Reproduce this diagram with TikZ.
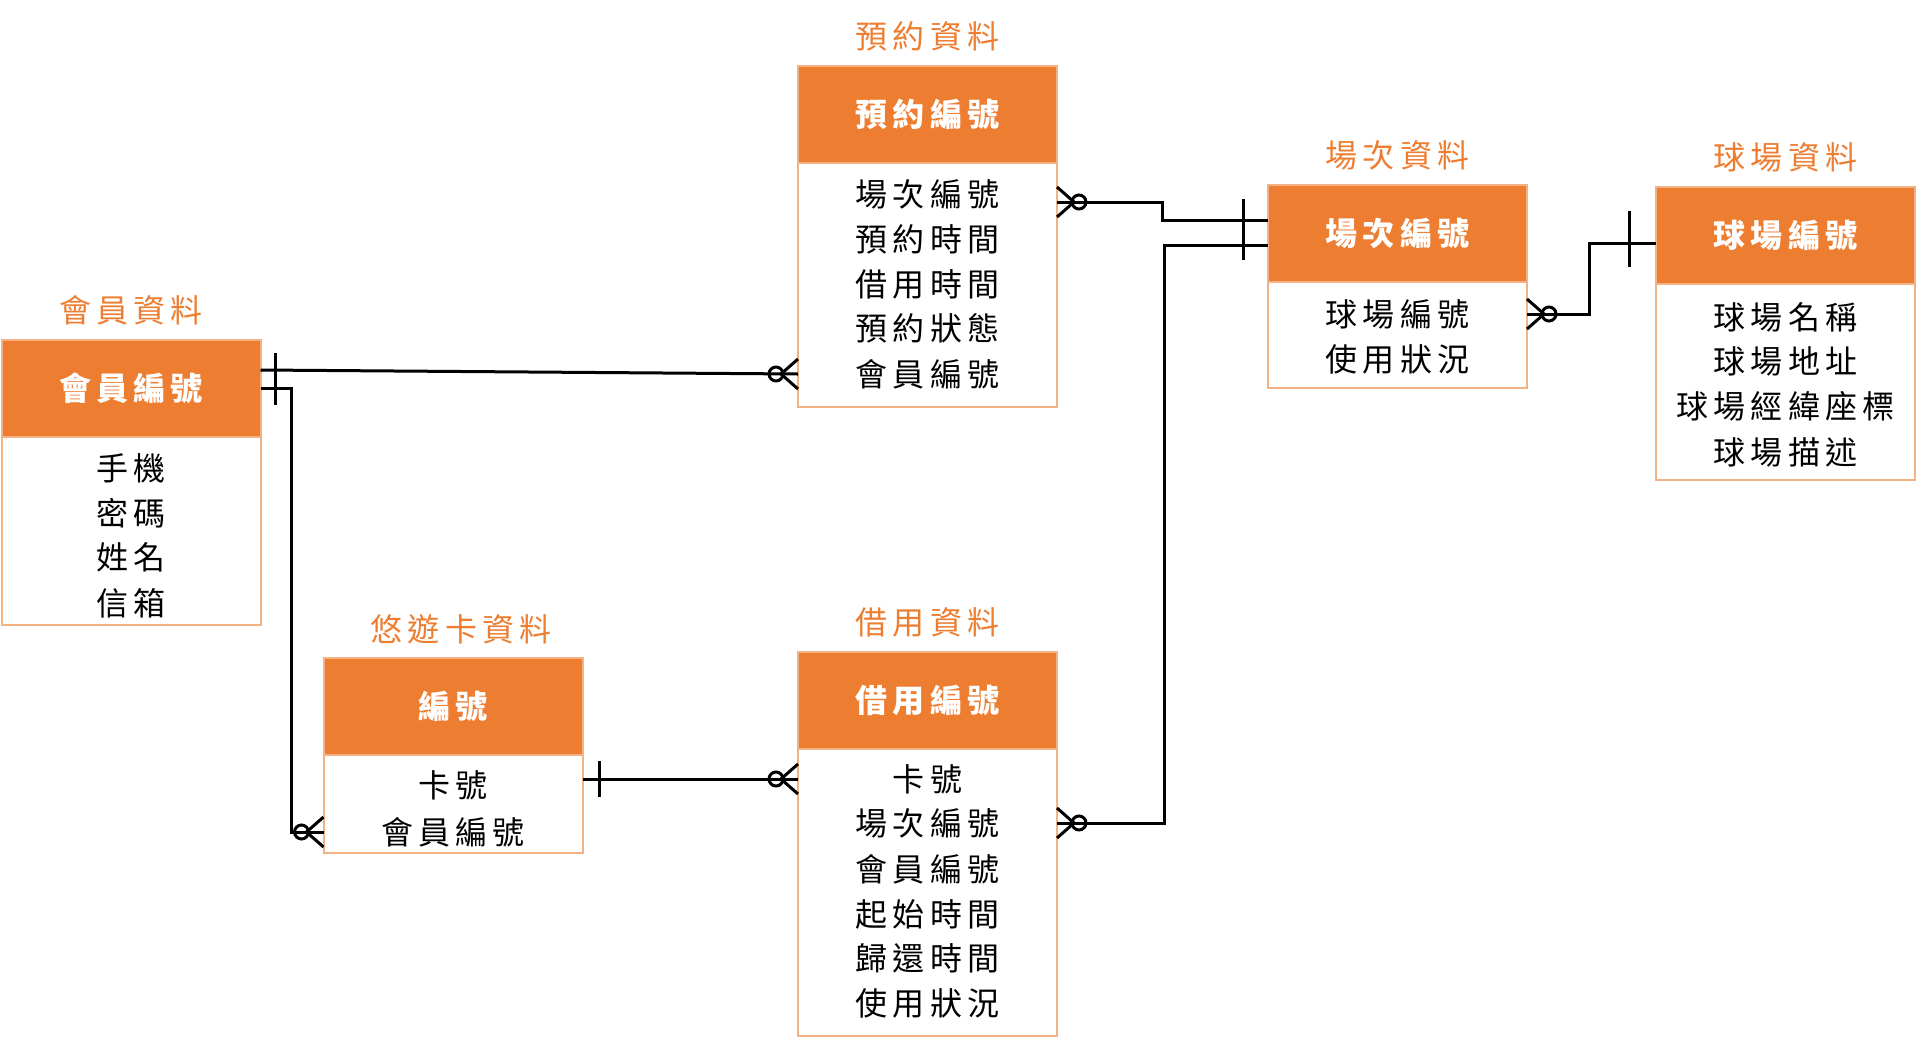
\documentclass[tikz,border=0pt]{standalone}
\usepackage{fontspec}
\setmainfont{Noto Sans CJK TC}[LetterSpace=16]
\usetikzlibrary{positioning}
\definecolor{mainorange}{HTML}{ED7D31}
\definecolor{edgeorange}{HTML}{F4B183}

\tikzset{
  enthead/.style={draw=edgeorange, line width=1pt, fill=mainorange, text=white, minimum width=129.5pt, minimum height=48.5pt, inner sep=0pt, outer sep=0pt, font=\bfseries\fontsize{16pt}{22.5pt}\selectfont},
  entbody/.style={draw=edgeorange, line width=1pt, fill=white, minimum width=129.5pt, inner sep=0pt, outer sep=0pt},
  enttitle/.style={text=mainorange, inner sep=0pt, font=\fontsize{16pt}{18pt}\selectfont},
  attr/.style={inner sep=0pt, font=\fontsize{16pt}{22.5pt}\selectfont},
  link/.style={line width=1.5pt},
  pics/zmany/.style={code={
    \draw[link] (0,-15) -- (-17,0) -- (0,15);
    \draw[link] (-22,0) circle[radius=3.5pt];
  }},
  pics/onebar/.style={code={\draw[link] (0,-#1) -- (0,#1);}},
}

\begin{document}
\begin{tikzpicture}[x=0.5pt,y=-0.5pt]
        \useasboundingbox (0,0) rectangle (1921,1050);

        % 會員資料
        \node[enthead] (mhdr) at (131,388) {會員編號};
        \node[entbody, below=0pt of mhdr, minimum height=94pt] (mbody) {};
        \node[enttitle, above=7pt of mhdr] (mtitle) {會員資料};
        \node[attr] (mr1) at (131,468) {手機};
        \node[attr] (mr2) at (131,513) {密碼};
        \node[attr] (mr3) at (131,557) {姓名};
        \node[attr] (mr4) at (131,603) {信箱};

        % 預約資料
        \node[enthead] (yhdr) at (927.5,114) {預約編號};
        \node[entbody, below=0pt of yhdr, minimum height=122pt] (ybody) {};
        \node[enttitle, above=7pt of yhdr] (ytitle) {預約資料};
        \node[attr] (yr1) at (927.5,194) {場次編號};
        \node[attr] (yr2) at (927.5,239) {預約時間};
        \node[attr] (yr3) at (927.5,284) {借用時間};
        \node[attr] (yr4) at (927.5,328) {預約狀態};
        \node[attr] (yr5) at (927.5,374) {會員編號};

        % 場次資料
        \node[enthead] (shdr) at (1397.5,233) {場次編號};
        \node[entbody, below=0pt of shdr, minimum height=53pt] (sbody) {};
        \node[enttitle, above=7pt of shdr] (stitle) {場次資料};
        \node[attr] (sr1) at (1397.5,314) {球場編號};
        \node[attr] (sr2) at (1397.5,359) {使用狀況};

        % 球場資料
        \node[enthead] (qhdr) at (1785.5,235.5) {球場編號};
        \node[entbody, below=0pt of qhdr, minimum height=98pt] (qbody) {};
        \node[enttitle, above=7pt of qhdr] (qtitle) {球場資料};
        \node[attr] (qr1) at (1785.5,317) {球場名稱};
        \node[attr] (qr2) at (1785.5,361) {球場地址};
        \node[attr] (qr3) at (1785.5,406) {球場經緯座標};
        \node[attr] (qr4) at (1785.5,452) {球場描述};

        % 悠遊卡資料
        \node[enthead] (chdr) at (453,706.5) {編號};
        \node[entbody, below=0pt of chdr, minimum height=49pt] (cbody) {};
        \node[enttitle, above=7pt of chdr, xshift=4pt] (ctitle) {悠遊卡資料};
        \node[attr] (cr1) at (453,785) {卡號};
        \node[attr] (cr2) at (453,832) {會員編號};

        % 借用資料
        \node[enthead] (bhdr) at (927.5,700) {借用編號};
        \node[entbody, below=0pt of bhdr, minimum height=143.5pt] (bbody) {};
        \node[enttitle, above=7pt of bhdr] (btitle) {借用資料};
        \node[attr] (br1) at (927.5,779) {卡號};
        \node[attr] (br2) at (927.5,823) {場次編號};
        \node[attr] (br3) at (927.5,869) {會員編號};
        \node[attr] (br4) at (927.5,914) {起始時間};
        \node[attr] (br5) at (927.5,958) {歸還時間};
        \node[attr] (br6) at (927.5,1003) {使用狀況};

        % 會員 -- 預約
        \draw[link] ([yshift=9pt]mhdr.east) -- (yr5 -| ybody.west);
        \path ([yshift=9pt]mhdr.east) ++(15,0) pic{onebar=17};
        \path (yr5 -| ybody.west) pic{zmany};

        % 會員 -- 悠遊卡
        \draw[link] (mhdr.east) -- ++(31,0) |- (cr2 -| cbody.west);
        \path (mhdr.east) ++(15,0) pic{onebar=17};
        \path (cr2 -| cbody.west) pic{zmany};

        % 預約 -- 場次
        \draw[link] ([yshift=-4pt]yr1 -| ybody.east) -- ++(105,0) |- ([yshift=6.5pt]shdr.west);
        \path ([yshift=-4pt]yr1 -| ybody.east) pic[rotate=180]{zmany};
        \path ([yshift=6.5pt]shdr.west) ++(-25,0) pic{onebar=21};

        % 借用 -- 場次
        \draw[link] (br2 -| bbody.east) -- ++(107,0) |- ([yshift=-6pt]shdr.west);
        \path (br2 -| bbody.east) pic[rotate=180]{zmany};
        \path ([yshift=-6pt]shdr.west) ++(-25,0) pic{onebar=15};

        % 場次 -- 球場
        \draw[link] (sr1 -| sbody.east) -- ++(62,0) |- ([yshift=-4pt]qhdr.west);
        \path (sr1 -| sbody.east) pic[rotate=180]{zmany};
        \path ([yshift=-4pt]qhdr.west) ++(-27,-5) pic{onebar=28};

        % 悠遊卡 -- 借用
        \draw[link] (br1 -| cbody.east) -- (br1 -| bbody.west);
        \path (br1 -| cbody.east) ++(17,0) pic{onebar=18};
        \path (br1 -| bbody.west) pic{zmany};
\end{tikzpicture}
\end{document}
